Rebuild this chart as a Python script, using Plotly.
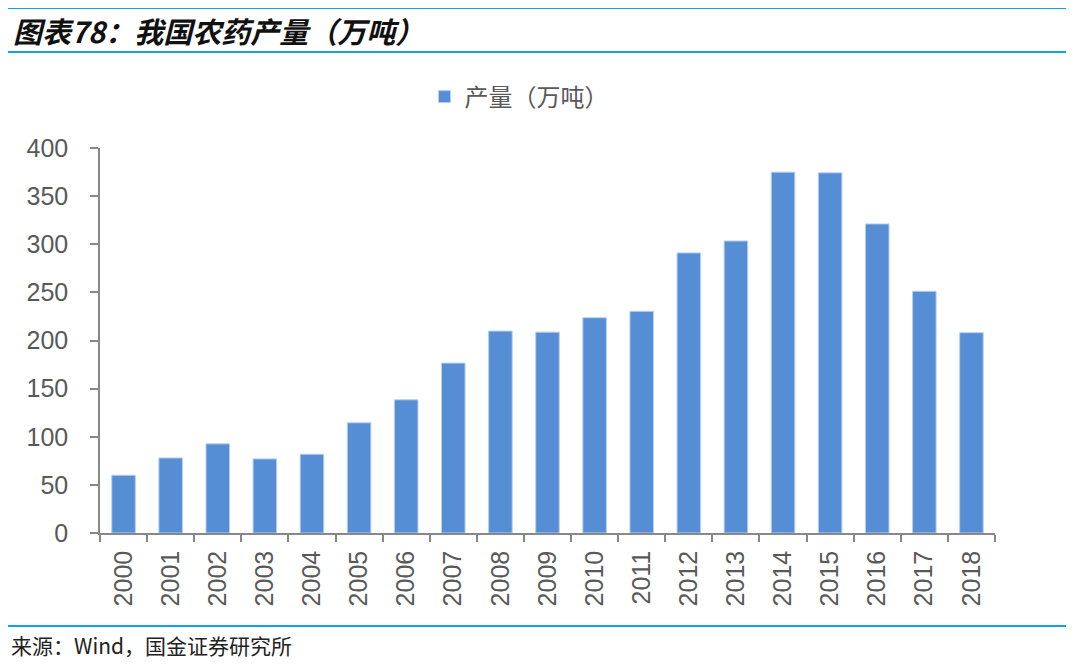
import plotly.graph_objects as go

years = [str(y) for y in range(2000, 2019)]
output = [60, 78, 92.6, 77, 81.8, 114.5, 138.4, 176.5, 209.8, 208.7,
          223.7, 230.3, 291, 303.4, 374.9, 374.2, 321.1, 251.1, 208.1]

y_ticks = [0, 50, 100, 150, 200, 250, 300, 350, 400]

# page has an 8px body margin; plot area on the page is x 100..995, y 148..533
W, H = 1072, 657
L, R, T, B = 92, 85, 140, 132
pw = W - L - R
ph = H - T - B


def px(x):
    # page pixel -> paper x
    return (x - 8 - L) / pw


def py(y):
    # page pixel -> paper y
    return (H - B - (y - 8)) / ph


fig = go.Figure()
fig.add_trace(go.Bar(
    x=years, y=output, name="产量（万吨）",
    marker=dict(color="#558ED5", line=dict(color="#B8CEEE", width=1)),
))

line_color = "#14A0E6"
shapes = []
for yy in [8, 52, 626]:
    shapes.append(dict(type="line", xref="paper", yref="paper",
                       x0=px(8), x1=px(1066), y0=py(yy), y1=py(yy),
                       line=dict(color=line_color, width=2)))

fig.update_layout(
    width=W, height=H,
    margin=dict(l=L, r=R, t=T, b=B),
    plot_bgcolor="white", paper_bgcolor="white",
    font=dict(family="Liberation Sans, Arial, Noto Sans CJK SC", color="#595959"),
    bargap=0.5,
    showlegend=True,
    legend=dict(orientation="h", x=px(519), xanchor="center", y=py(97), yanchor="middle",
                font=dict(size=24, color="#595959", family="Noto Sans CJK SC")),
    shapes=shapes,
    annotations=[
        dict(text="<b><i>图表78：我国农药产量（万吨）</i></b>", xref="paper", yref="paper",
             x=px(11), y=py(30), xanchor="left", yanchor="middle", showarrow=False,
             font=dict(size=29, color="#111111", family="Noto Sans CJK SC")),
        dict(text="来源：Wind，国金证券研究所", xref="paper", yref="paper",
             x=px(9), y=py(645), xanchor="left", yanchor="middle", showarrow=False,
             font=dict(size=21, color="#222222", family="Noto Sans CJK SC")),
    ],
)

fig.update_xaxes(
    type="category", tickangle=-90, tickson="boundaries",
    ticks="outside", ticklen=7, tickcolor="#888888", tickwidth=1.5,
    showline=True, linecolor="#888888", linewidth=1.5,
    showgrid=False, ticklabelstandoff=6,
    tickfont=dict(size=25, color="#595959"),
)
fig.update_yaxes(
    range=[0, 400], tickvals=y_ticks,
    ticks="outside", ticklen=8, tickcolor="#888888", tickwidth=1.5,
    showline=True, linecolor="#888888", linewidth=1.5,
    showgrid=False, zeroline=False, ticklabelstandoff=17,
    tickfont=dict(size=25, color="#595959"),
)

fig.write_html("out.html")
